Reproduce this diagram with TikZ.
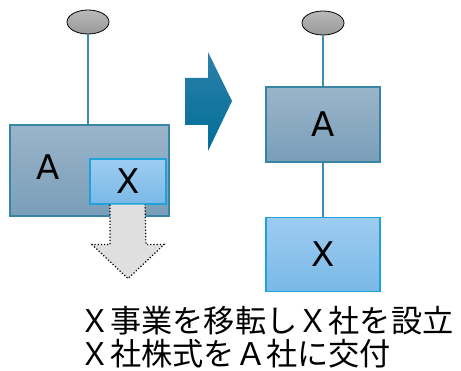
\documentclass[tikz,border=0pt]{standalone}
\usepackage{fontspec}
\usepackage{xcolor}
\usepackage{tikz}
\usetikzlibrary{positioning,shapes.geometric}
\setmainfont{DejaVu Sans}
\newfontfamily\jpfont{Noto Sans CJK JP}

\definecolor{boxA1}{HTML}{9AB5CA}
\definecolor{boxA2}{HTML}{7A9EB9}
\definecolor{boxX1}{HTML}{9ECCF1}
\definecolor{boxX2}{HTML}{79B9E7}
\definecolor{edgeA}{HTML}{3784A5}
\definecolor{edgeX}{HTML}{1FA2DA}
\definecolor{linkcol}{HTML}{3A8FAE}
\definecolor{bigarrow1}{HTML}{2C80A9}
\definecolor{bigarrow2}{HTML}{006E99}

\tikzset{
	topnode/.style={draw=black, line width=0.8pt, ellipse, top color=gray!55, bottom color=gray!80, minimum width=42pt, minimum height=24pt, inner sep=0pt},
	abox/.style={draw=edgeA, line width=1.2pt, rectangle, top color=boxA1, bottom color=boxA2, inner sep=0pt, font=\fontsize{34}{34}\selectfont},
	xbox/.style={draw=edgeX, line width=1.2pt, rectangle, top color=boxX1, bottom color=boxX2, inner sep=0pt, font=\fontsize{34}{34}\selectfont},
	link/.style={draw=linkcol, line width=1.2pt}
}

\begin{document}
\begin{tikzpicture}[x=1pt, y=1pt]
		\useasboundingbox (0,0) rectangle (461,370);
		% Nodes (before)
		\node[topnode] (top1) at (88,348) {};
		\node[abox, minimum width=159pt, minimum height=91pt] (A1) at (89.5,199.5) {};
		\node[font=\fontsize{34}{34}\selectfont] (A1label) at (48,203) {A};
		\node[xbox, minimum width=76pt, minimum height=45pt] (X1) at (128,188.5) {X};
		
		% Nodes (after)
		\node[topnode] (top2) at (323,347) {};
		\node[abox, minimum width=114pt, minimum height=75pt] (A2) at (323,245.5) {A};
		\node[xbox, minimum width=114pt, minimum height=74pt, below=54pt of A2] (X2) {X};
		
		% Lines
		\draw[link] (top1.south) -- (top1.south |- A1.north);
		\draw[link] (top2) -- (A2);
		\draw[link] (A2) -- (X2);
		
		% Arrows
		\draw[black, dotted, line width=1.2pt, fill=gray!25]
			([xshift=-18pt]X1.south) -- ++(0,-40) -- ++(-18,0) -- ([yshift=-74pt]X1.south)
			-- ++(36,34) -- ++(-18,0) -- ([xshift=17pt]X1.south);
		\shade[top color=bigarrow1, bottom color=bigarrow2]
			(185,292) -- (208,292) -- (208,318) -- (232,269) -- (208,219) -- (208,245) -- (185,245) -- cycle;
		
		% Labels
		\node[anchor=west, align=left, inner sep=0pt, font=\jpfont\fontsize{31.2}{33}\selectfont] (caption) at (79,33)
			{Ｘ事業を移転しＸ社を設立\\Ｘ社株式をＡ社に交付};
		
	\end{tikzpicture}
\end{document}
